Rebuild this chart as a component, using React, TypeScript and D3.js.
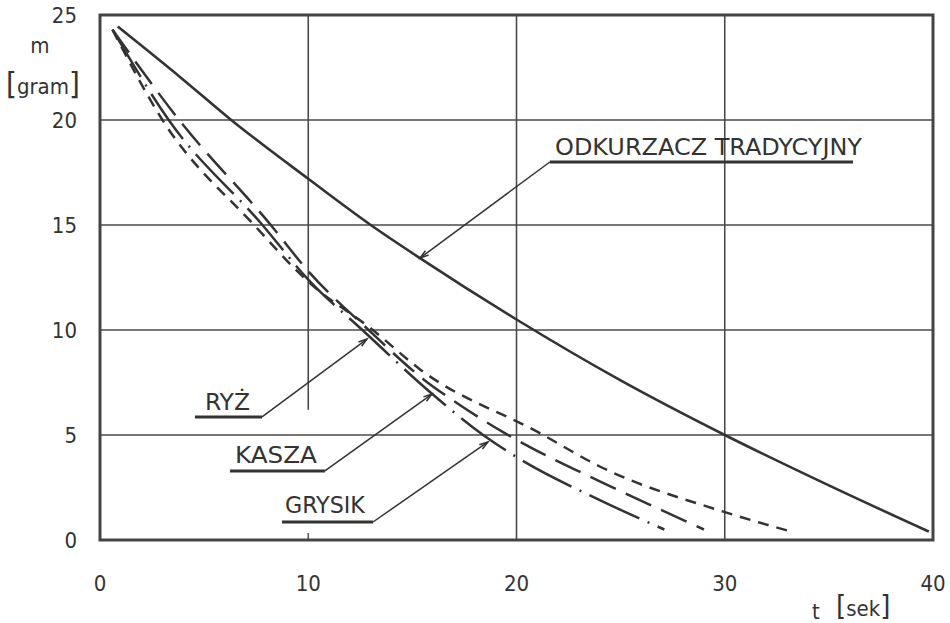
import React from "react";
import * as d3 from "d3";

// ---------- data ----------
const xTicks = [0, 10, 20, 30, 40];
const yTicks = [0, 5, 10, 15, 20, 25];
const gridX = [10, 20, 30];
const gridXStop = [6.2, 0, 0];
const gridY = [5, 10, 15, 20];

const tradT = [0.85, 3.84, 6.3, 10, 13, 15.4, 20, 25, 30, 35, 39.8];
const tradM = [24.45, 22.05, 20, 17.2, 15, 13.4, 10.5, 7.6, 5, 2.6, 0.4];

// dash-dot (lowest at the end)
const grysikT = [0.6, 3.3, 7.8, 10, 12.6, 15.9, 18.4, 20, 24, 27.1];
const grysikM = [24.3, 20, 15, 12.4, 10, 7.0, 5, 3.95, 1.9, 0.5];

// long dashes
const kaszaT = [0.6, 3.8, 8.2, 10, 12.9, 15.6, 17.1, 19.5, 20.6, 24.2, 29];
const kaszaM = [24.3, 20, 15, 12.8, 10, 7.6, 6.55, 5.05, 4.45, 2.7, 0.5];

// short dashes
const ryzT = [0.6, 3.0, 7.4, 10, 13.1, 15.4, 21.1, 24, 30, 33.2];
const ryzM = [24.3, 20, 15, 12.3, 10, 8.1, 5.1, 3.5, 1.33, 0.4];

const labels = ["ODKURZACZ TRADYCYJNY", "RYŻ", "KASZA", "GRYSIK"];
const labelTextT = [21.85, 5.04, 6.48, 8.88];
const labelTextM = [18.33, 6.19, 3.67, 1.29];
const labelTextW = [307, 45, 82, 80];
const underlineT0 = [21.6, 4.56, 6.24, 8.74];
const underlineT1 = [36.16, 7.78, 10.8, 13.11];
const underlineM = [18.0, 5.86, 3.29, 0.857];
const tipT = [15.37, 12.82, 15.94, 18.63];
const tipM = [13.43, 9.57, 6.95, 4.67];

const INK = "#333";
const FONT = "'DejaVu Sans Condensed', 'DejaVu Sans', sans-serif";

export default function App() {
  const W = 950;
  const H = 623;
  const x = d3.scaleLinear().domain([0, 40]).range([100, 933]);
  const y = d3.scaleLinear().domain([0, 25]).range([540, 15]);

  const line = d3
    .line<[number, number]>()
    .x((d) => x(d[0]))
    .y((d) => y(d[1]))
    .curve(d3.curveMonotoneX);

  const zip = (a: number[], b: number[]) =>
    a.map((v, i) => [v, b[i]] as [number, number]);

  const series = [
    { pts: zip(tradT, tradM), dash: "none", w: 2.6 },
    { pts: zip(grysikT, grysikM), dash: "55,9,2,9", w: 2.5 },
    { pts: zip(kaszaT, kaszaM), dash: "28,11", w: 2.5 },
    { pts: zip(ryzT, ryzM), dash: "11,8", w: 2.5 },
  ];

  const arrow = (x0: number, y0: number, x1: number, y1: number) => {
    const ang = Math.atan2(y1 - y0, x1 - x0);
    const L = 9;
    const a = 0.3;
    const p1 = [x1 - L * Math.cos(ang - a), y1 - L * Math.sin(ang - a)];
    const p2 = [x1 - L * Math.cos(ang + a), y1 - L * Math.sin(ang + a)];
    return `M${p1[0]},${p1[1]}L${x1},${y1}L${p2[0]},${p2[1]}`;
  };

  return (
    <svg
      width={W}
      height={H}
      style={{ position: "absolute", left: 0, top: 0, background: "#fff" }}
    >
      {/* grid */}
      {gridX.map((g, i) => (
        <g key={"gx" + g}>
          <line
            x1={x(g)}
            x2={x(g)}
            y1={y(25)}
            y2={y(gridXStop[i])}
            stroke="#4a4a4a"
            strokeWidth={1.6}
          />
          {gridXStop[i] > 0 && (
            <line
              x1={x(g)}
              x2={x(g)}
              y1={y(0) - 7}
              y2={y(0)}
              stroke="#4a4a4a"
              strokeWidth={1.4}
            />
          )}
        </g>
      ))}
      {gridY.map((g) => (
        <line
          key={"gy" + g}
          x1={x(0)}
          x2={x(40)}
          y1={y(g)}
          y2={y(g)}
          stroke="#4a4a4a"
          strokeWidth={1.6}
        />
      ))}
      {/* frame */}
      <rect
        x={x(0)}
        y={y(25)}
        width={x(40) - x(0)}
        height={y(0) - y(25)}
        fill="none"
        stroke="#444"
        strokeWidth={3}
      />

      {/* curves */}
      {series.map((s, i) => (
        <path
          key={"s" + i}
          d={line(s.pts) || ""}
          fill="none"
          stroke={INK}
          strokeWidth={s.w}
          strokeDasharray={s.dash}
        />
      ))}

      {/* labels with leaders */}
      {labels.map((lab, i) => {
        const ux0 = x(underlineT0[i]);
        const ux1 = x(underlineT1[i]);
        const uy = y(underlineM[i]);
        const tx = x(tipT[i]);
        const ty = y(tipM[i]);
        const startX = i === 0 ? ux0 : ux1;
        return (
          <g key={"l" + i}>
            <text
              x={x(labelTextT[i])}
              y={y(labelTextM[i])}
              fontFamily={FONT}
              fontSize={23}
              fill={INK}
              textLength={labelTextW[i]}
              lengthAdjust="spacingAndGlyphs"
            >
              {lab}
            </text>
            <line
              x1={ux0}
              x2={ux1}
              y1={uy}
              y2={uy}
              stroke={INK}
              strokeWidth={3}
            />
            <line
              x1={startX}
              y1={uy}
              x2={tx}
              y2={ty}
              stroke={INK}
              strokeWidth={1.5}
            />
            <path
              d={arrow(startX, uy, tx, ty)}
              fill="none"
              stroke={INK}
              strokeWidth={1.5}
            />
          </g>
        );
      })}

      {/* y ticks */}
      {yTicks.map((t) => (
        <text
          key={"yt" + t}
          x={77}
          y={y(t)}
          dy="0.36em"
          textAnchor="end"
          fontFamily={FONT}
          fontSize={22}
          fill={INK}
        >
          {t}
        </text>
      ))}
      {/* x ticks */}
      {xTicks.map((t) => (
        <text
          key={"xt" + t}
          x={x(t)}
          y={583}
          dy="0.36em"
          textAnchor="middle"
          fontFamily={FONT}
          fontSize={22}
          fill={INK}
        >
          {t}
        </text>
      ))}

      {/* axis titles */}
      <text x={40} y={53} textAnchor="middle" fontFamily={FONT} fontSize={22} fill={INK}>
        m
      </text>
      <text x={6} y={94} fontFamily={FONT} fontSize={22} fill={INK}>
        <tspan fontSize={31} fontWeight={200}>[</tspan>
        <tspan>gram</tspan>
        <tspan fontSize={31} fontWeight={200}>]</tspan>
      </text>
      <text x={812} y={619} fontFamily={FONT} fontSize={22} fill={INK}>
        t
      </text>
      <text x={836} y={616} fontFamily={FONT} fontSize={22} fill={INK}>
        <tspan fontSize={29} fontWeight={200}>[</tspan>
        <tspan>sek</tspan>
        <tspan fontSize={29} fontWeight={200}>]</tspan>
      </text>
    </svg>
  );
}
